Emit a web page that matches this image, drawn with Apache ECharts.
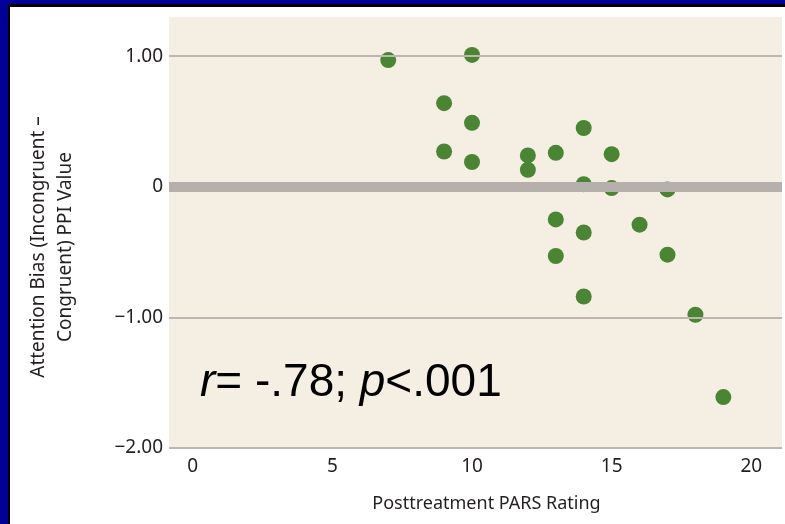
<!DOCTYPE html>
<html>
<head>
<meta charset="utf-8">
<script src="https://cdn.jsdelivr.net/npm/echarts@6/dist/echarts.min.js"></script>
<style>
  html, body { margin: 0; padding: 0; background: #ffffff; }
  #frame { position: absolute; left: 0; top: 0; width: 785px; height: 524px; background: #000099; }
  #rule { position: absolute; left: 8px; top: 4px; right: 0; bottom: 0; background: #000000; }
  #panel { position: absolute; left: 10px; top: 7px; right: 0; bottom: 0; background: #ffffff; }
  #chart { position: absolute; left: 0; top: 0; width: 785px; height: 524px; }
</style>
</head>
<body>
<div id="frame"><div id="rule"></div><div id="panel"></div></div>
<div id="chart"></div>
<script>
// Posttreatment PARS rating vs. attention bias (PPI value)
const parsRating = [7, 10, 9, 10, 9, 10, 12, 12, 13, 14, 15, 14, 15, 17, 13, 14, 16, 13, 17, 14, 18, 19];
const biasValue  = [0.97, 1.01, 0.64, 0.49, 0.27, 0.19, 0.24, 0.13, 0.26, 0.45, 0.25, 0.02, -0.01, -0.02,
                    -0.25, -0.35, -0.29, -0.53, -0.52, -0.84, -0.98, -1.61];
const xTicks = [0, 5, 10, 15, 20];
const yTicks = [-2, -1, 0, 1];
const gridLevels = [-2, -1, 1];
const zeroLevel = 0;

const axisFont = 'Noto Sans';
const textColor = '#231f20';
const points = parsRating.map((x, i) => [x, biasValue[i]]);

const chart = echarts.init(document.getElementById('chart'), null, { renderer: 'canvas' });
chart.setOption({
  backgroundColor: 'transparent',
  animation: false,
  grid: {
    left: 169, top: 17, right: 3, bottom: 76,
    show: true, backgroundColor: '#f5efe3', borderWidth: 0
  },
  xAxis: {
    type: 'value',
    min: -0.85, max: 21.1,
    axisLine: { show: false },
    axisTick: { show: false },
    splitLine: { show: false },
    axisLabel: {
      customValues: xTicks,
      color: textColor, fontFamily: axisFont, fontSize: 19, margin: 9
    },
    name: 'Posttreatment PARS Rating',
    nameLocation: 'middle',
    nameGap: 47,
    nameTextStyle: { color: textColor, fontFamily: axisFont, fontSize: 18, padding: [0, 0, 0, 22] }
  },
  yAxis: {
    type: 'value',
    min: -2, max: 1.3,
    axisLine: { show: false },
    axisTick: { show: false },
    splitLine: { show: false },
    axisLabel: {
      customValues: yTicks,
      color: textColor, fontFamily: axisFont, fontSize: 19, margin: 6,
      formatter: v => v === 0 ? '0' : (v < 0 ? '\u2212' + Math.abs(v).toFixed(2) : v.toFixed(2))
    }
  },
  graphic: [
    {
      type: 'text', x: 52, y: 247, rotation: Math.PI / 2, z: 10,
      style: {
        text: 'Attention Bias (Incongruent \u2013\nCongruent) PPI Value',
        fontFamily: axisFont, fontSize: 19, lineHeight: 27, fill: textColor,
        align: 'center', verticalAlign: 'middle'
      }
    },
    {
      type: 'text', x: 200, y: 383, z: 10,
      style: {
        text: '{i|r}= -.78; {i|p}<.001',
        fontFamily: 'Liberation Sans', fontSize: 46, fill: '#000000',
        verticalAlign: 'middle',
        rich: { i: { fontFamily: 'Liberation Sans', fontSize: 46, fontStyle: 'italic', fill: '#000000' } }
      }
    }
  ],
  series: [
    {
      // reference lines: thin grid levels and the heavy zero line
      type: 'scatter', data: [], z: 1, silent: true,
      markLine: {
        silent: true, symbol: 'none', animation: false,
        label: { show: false },
        data: gridLevels.map(v => ({ yAxis: v, lineStyle: { color: '#bcb7b0', width: 2, type: 'solid' } }))
          .concat([{ yAxis: zeroLevel, lineStyle: { color: '#b5b0ab', width: 10, type: 'solid' } }])
      }
    },
    {
      type: 'scatter', z: 3,
      data: points,
      symbol: 'circle', symbolSize: 16,
      itemStyle: { color: '#4a8533', opacity: 1 }
    }
  ]
});
</script>
</body>
</html>
